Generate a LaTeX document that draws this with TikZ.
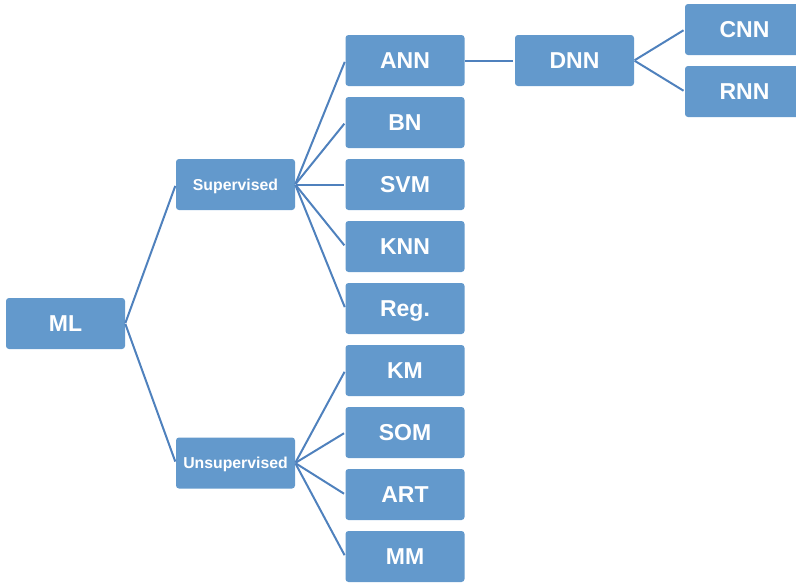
\documentclass[tikz,border=0pt]{standalone}
\usepackage{fontspec}
\setmainfont{Liberation Sans}
\begin{document}
\definecolor{boxfill}{RGB}{99,153,204}
\definecolor{linkcol}{RGB}{79,129,189}
\begin{tikzpicture}[x=1pt,y=-1pt,
  box/.style={fill=boxfill, draw=none, rounded corners=3pt, minimum width=119pt, minimum height=51pt,
    inner sep=0pt, text height=16.5pt, text depth=0pt, text=white,
    font=\fontsize{23}{26}\selectfont\bfseries},
  smallbox/.style={box, text height=11.3pt, font=\fontsize{15.8}{18}\selectfont\bfseries},
  link/.style={draw=linkcol, line width=2pt, shorten <=0.5pt, shorten >=1.5pt}]
\useasboundingbox (0,0) rectangle (796,584);
\clip (0,0) rectangle (796,584);
% root and the two learning families
\node[box] (ml) at (65.5,323.5) {ML};
\node[smallbox] (sup) at (235.5,184.5) {Supervised};
\node[smallbox] (uns) at (235.5,463) {Unsupervised};
% methods
\node[box] (ann) at (405,60.5) {ANN};
\node[box] (bn)  at (405,122.5) {BN};
\node[box] (svm) at (405,184.5) {SVM};
\node[box] (knn) at (405,246.5) {KNN};
\node[box] (reg) at (405,308.5) {Reg.};
\node[box] (km)  at (405,370.5) {KM};
\node[box] (som) at (405,432.5) {SOM};
\node[box] (art) at (405,494.5) {ART};
\node[box] (mm)  at (405,556.5) {MM};
% deep networks
\node[box] (dnn) at (574.5,60.5) {DNN};
\node[box] (cnn) at (744.5,29.5) {CNN};
\node[box] (rnn) at (744.5,91.5) {RNN};
% connectors
\draw[link] (ml.east) -- (sup.west);
\draw[link] (ml.east) -- (uns.west);
\foreach \c in {ann,bn,svm,knn,reg} \draw[link] (sup.east) -- (\c.west);
\foreach \c in {km,som,art,mm} \draw[link] (uns.east) -- (\c.west);
\draw[link] (ann.east) -- (dnn.west);
\draw[link] (dnn.east) -- (cnn.west);
\draw[link] (dnn.east) -- (rnn.west);
\end{tikzpicture}
\end{document}
